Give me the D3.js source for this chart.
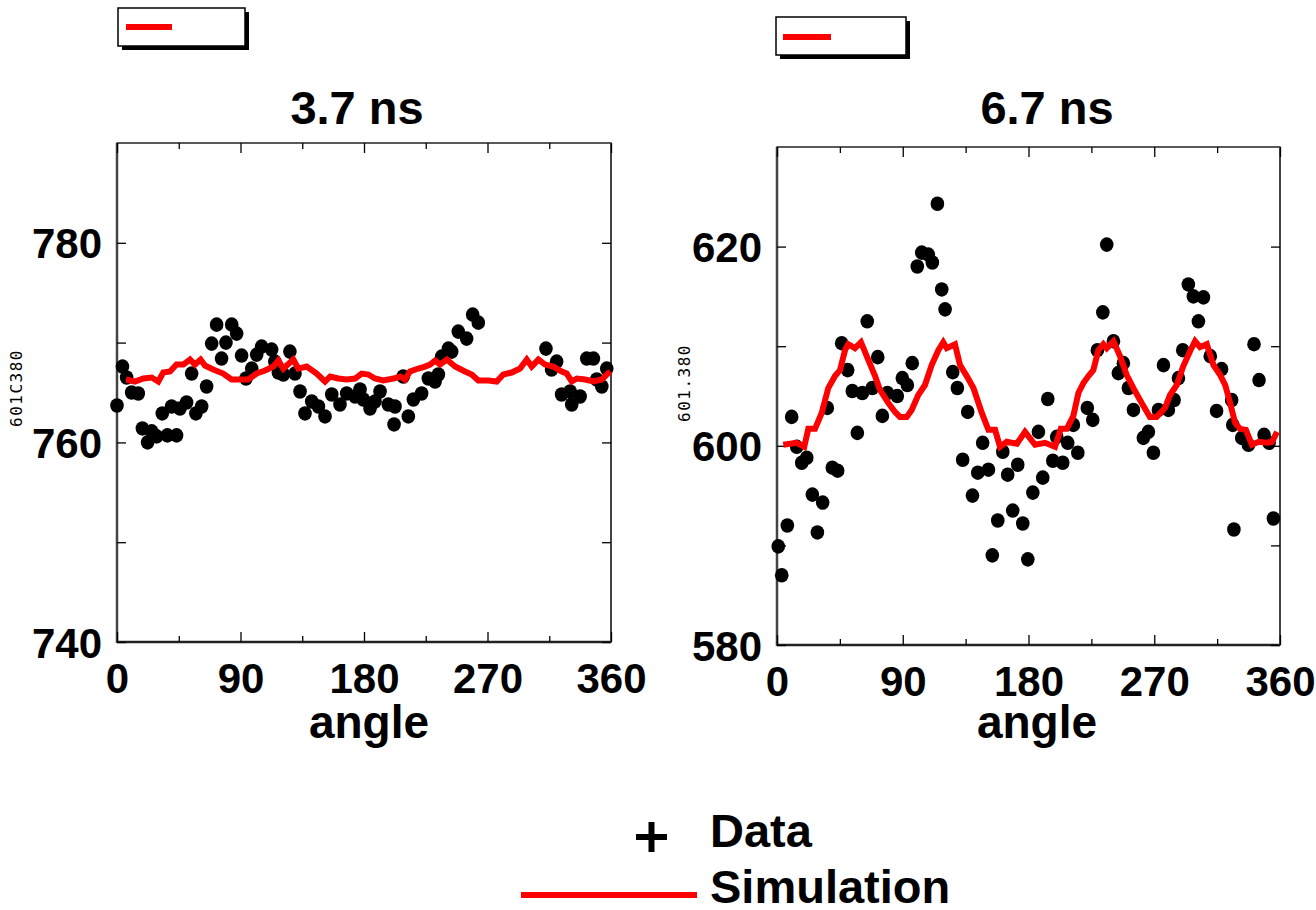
<!DOCTYPE html>
<html>
<head>
<meta charset="utf-8">
<script src="https://cdn.jsdelivr.net/npm/d3@7"></script>
<style>
  body { margin: 0; background: #fff; }
  text { font-family: "Liberation Sans", Arial, sans-serif; font-weight: bold; }
  .mono { font-family: "DejaVu Sans Mono", monospace; font-weight: normal; }
</style>
</head>
<body>
<div id="chart"></div>
<script>
// ---- data ----
var xTicks = [0, 45, 90, 135, 180, 225, 270, 315, 360];

// 3.7 ns panel
var leftAngles = [0, 4, 7, 10.7, 15.5, 18.5, 22.3, 25.3, 28.9, 33, 36.7, 39.8, 43.4, 45.9, 50.7, 54.4, 57.5, 61.7,
    65.3, 69, 72.6, 76.2, 79.4, 83.6, 87.2, 90.8, 94, 98.2, 101.8, 105.4, 112.7, 115, 117.6, 121.2, 126, 129.7,
    133.4, 137, 141.9, 146.8, 151.6, 156.5, 162.5, 167.4, 173.5, 177.1, 179.5, 184.4, 188, 191.7, 197.7, 201.9,
    202.6, 208.6, 212.3, 216, 222, 226.9, 231.8, 234.2, 236.6, 241.5, 243.9, 248.7, 254.8, 259.2, 263.3, 312.6,
    316.7, 320.4, 324, 330.2, 331.4, 337.5, 342.3, 347.2, 349.6, 353.3, 356.9];
var leftValues = [763.7, 767.6, 766.5, 765, 764.9, 761.4, 760, 761.1, 760.6, 762.9, 760.7, 763.6, 760.7, 763.4, 764,
    766.9, 762.9, 763.6, 765.6, 769.9, 771.8, 768.4, 770, 771.8, 770.9, 768.7, 766.4, 767.4, 768.8, 769.6, 769.3,
    768.1, 767, 766.8, 769.1, 766.9, 765.1, 762.9, 764.1, 763.6, 762.6, 764.8, 763.8, 764.9, 764.6, 765.3, 764.3,
    763.4, 764.1, 765.1, 763.8, 761.8, 763.6, 766.6, 762.6, 764.3, 764.9, 766.4, 766.1, 766.8, 768.6, 769.4, 769.1,
    771.1, 770.4, 772.8, 772, 769.4, 767.3, 768.1, 764.8, 765.1, 763.8, 764.6, 768.4, 768.4, 766.3, 765.6, 767.4];
var leftSimAngles = [6.6, 13.1, 19.2, 25.3, 30.1, 33.7, 38.6, 43.4, 48.3, 53.2, 56.8, 60.9, 64.1, 70.1, 77.4, 83.5,
    90.8, 95.6, 101.8, 107.9, 113.9, 117.6, 121.2, 128.5, 132.1, 138.2, 145.5, 151.6, 155.3, 161.3, 167.4, 173.5,
    178.3, 183.2, 188, 194.1, 201.4, 206.3, 209.9, 213.5, 219.6, 224.5, 228.1, 231.8, 235.4, 240.3, 246.4, 253.6,
    258.5, 263.3, 270.6, 276.7, 281.5, 287.6, 293.7, 298.6, 302.2, 307.1, 312, 318, 324.1, 327.7, 331.4, 335.1,
    341.1, 347.2, 353.3, 356.9, 359.5];
var leftSimValues = [766.3, 766.1, 766.4, 766.5, 766.1, 767, 767.1, 767.8, 767.8, 768.3, 767.8, 768.3, 767.7, 767.3,
    766.9, 766.3, 766.3, 766.3, 766.9, 767.2, 767.6, 768.2, 767.4, 768.3, 767.4, 767.6, 766.9, 766.1, 766.6, 766.4,
    766.3, 766.4, 766.9, 766.8, 766.4, 766.2, 766.4, 766.6, 766.3, 767.1, 767.4, 767.6, 767.8, 768.2, 767.8, 768.3,
    767.6, 767.1, 766.8, 766.2, 766.2, 766.1, 766.8, 767, 767.4, 768.3, 767.6, 768.3, 767.8, 767.6, 767.1, 766.9,
    766.1, 766.4, 766.3, 766.1, 766.3, 766.8, 767.1];

// 6.7 ns panel
var rightAngles = [0.9, 3.4, 7.4, 10.5, 14.1, 17.7, 21.3, 25.3, 28.9, 32.7, 36, 39.6, 43.4, 46.3, 50.6, 53.9, 57.5,
    61.1, 64.6, 68.2, 72.1, 75.4, 79, 86.1, 89.7, 93.3, 96.8, 100.4, 103.6, 108.3, 111.2, 114.8, 117.9, 120.3,
    125.8, 129.1, 132.9, 136.5, 139.9, 143.7, 147.2, 151.3, 154.1, 158, 161.6, 165.1, 168.7, 172.3, 175.9, 179.5,
    183.1, 187.1, 190.2, 193.8, 197.4, 200.2, 204.5, 208.1, 212.1, 215.3, 222.1, 226, 229.3, 233.2, 236, 240.8,
    244.3, 247.9, 251.5, 255.1, 262.2, 265.8, 269.4, 273, 276.6, 280.1, 284.2, 287.3, 290.4, 294.4, 298, 301.6,
    305.2, 310.1, 314.6, 318.2, 325.4, 326.2, 327, 332.6, 337.4, 341.4, 345, 348.6, 352.2, 355.3];
var rightValues = [589.9, 587, 592, 602.9, 599.9, 598.3, 598.8, 595.1, 591.3, 594.3, 603.8, 597.8, 597.5, 610.3,
    607.6, 605.5, 601.3, 605.3, 612.5, 605.8, 608.9, 603, 605.3, 605, 606.8, 606.1, 608.3, 618, 619.4, 619.2, 618.4,
    624.3, 615.7, 613.7, 607.4, 605.8, 598.6, 603.4, 595, 597.3, 600.3, 597.6, 589, 592.5, 599.4, 597.1, 593.5,
    598.1, 592.2, 588.6, 595.3, 601.4, 596.8, 604.7, 598.5, 600.9, 598.3, 600.3, 602.1, 599.3, 603.8, 602.6, 609.6,
    613.4, 620.2, 610.5, 607.3, 608.3, 605.8, 603.6, 600.8, 601.4, 599.3, 603.6, 608.1, 603.6, 604.6, 606.8, 609.6,
    616.2, 615, 612.5, 614.9, 609, 603.5, 607.7, 604.6, 602.1, 591.6, 600.8, 600.1, 610.2, 606.6, 601.1, 600.3, 592.7];
var rightSimAngles = [4.5, 9.3, 14.1, 19.5, 22.4, 27.2, 32, 36.7, 41.5, 45.1, 48.7, 51, 55.8, 60.1, 65.4, 70.2, 73.7,
    79.7, 84.5, 88, 92.8, 96.4, 101.1, 105.9, 110.7, 115.5, 119, 121.5, 127.4, 131, 135.8, 140.6, 146.6, 151.3,
    156.1, 159.6, 164.4, 171.6, 177.5, 184.7, 191.8, 199, 203.1, 207.4, 212.1, 215.7, 219.3, 222.9, 226.4, 230,
    233.6, 236, 240.8, 245.5, 250.3, 256.2, 261, 266.9, 271.7, 277.7, 281.3, 286.1, 290.8, 295.6, 299.2, 302.8,
    307.6, 312.4, 317.2, 320.8, 324.3, 327.9, 331.5, 335.6, 339.9, 344.7, 350.7, 354.3, 357.9];
var rightSimValues = [600.1, 600.2, 600.3, 599.9, 601.7, 601.7, 603.3, 605.8, 607, 607.6, 609.6, 610.2, 609.8, 610.4,
    608.6, 607, 605.6, 604.3, 603.4, 602.9, 602.9, 603.6, 605.1, 606.1, 608.1, 609.6, 610.4, 609.8, 610.2, 608.1,
    607, 605.8, 603.3, 601.6, 601.6, 599.9, 600.4, 600.2, 601.4, 600.1, 600.3, 599.9, 601.7, 601.7, 603, 605.3,
    606.3, 607, 607.6, 609.6, 610.2, 609.8, 610.5, 609, 607.1, 605.5, 604.3, 602.9, 602.9, 603.8, 605.1, 606.1, 608,
    609.5, 610.5, 609.9, 610.2, 608.1, 607.1, 606.1, 604.3, 602.3, 601.7, 601.6, 600.1, 600.4, 600.3, 600.4, 601.4];

var panels = [
    { title: "3.7 ns", tag: "601C380", yDomain: [740, 790], yTicks: [740, 750, 760, 770, 780],
      left: 117, right: 611, top: 143, bottom: 642, tagX: 16, tagY: 388, titleX: 357, labelX: 369,
      angles: leftAngles, values: leftValues, simAngles: leftSimAngles, simValues: leftSimValues,
      box: [118, 8, 127, 38], boxLine: [126, 172, 27] },
    { title: "6.7 ns", tag: "601.380", yDomain: [580, 630], yTicks: [580, 590, 600, 610, 620],
      left: 777, right: 1280, top: 147, bottom: 645, tagX: 684, tagY: 383, titleX: 1047, labelX: 1037,
      angles: rightAngles, values: rightValues, simAngles: rightSimAngles, simValues: rightSimValues,
      box: [776, 17, 130, 38], boxLine: [783, 831, 37] }
];

var svg = d3.select("#chart").append("svg")
    .attr("width", 1316)
    .attr("height", 910);

panels.forEach(function (p) {
    var x = d3.scaleLinear().domain([0, 360]).range([p.left, p.right]);
    var y = d3.scaleLinear().domain(p.yDomain).range([p.bottom, p.top]);
    var g = svg.append("g");

    // small legend box at the top (shadow + box + red sample)
    g.append("rect")
        .attr("x", p.box[0] + 4).attr("y", p.box[1] + 4)
        .attr("width", p.box[2]).attr("height", p.box[3])
        .attr("fill", "#000");
    g.append("rect")
        .attr("x", p.box[0]).attr("y", p.box[1])
        .attr("width", p.box[2]).attr("height", p.box[3])
        .attr("fill", "#fff").attr("stroke", "#000").attr("stroke-width", 1.5);
    g.append("line")
        .attr("x1", p.boxLine[0]).attr("x2", p.boxLine[1])
        .attr("y1", p.boxLine[2]).attr("y2", p.boxLine[2])
        .attr("stroke", "#ff0000").attr("stroke-width", 6);

    // title
    g.append("text")
        .attr("x", p.titleX).attr("y", 124)
        .attr("text-anchor", "middle")
        .style("font-size", "47px")
        .text(p.title);

    // small rotated tag
    g.append("text")
        .attr("class", "mono")
        .attr("transform", "translate(" + p.tagX + "," + p.tagY + ") rotate(-90)")
        .attr("text-anchor", "middle")
        .attr("dy", "0.35em")
        .style("font-size", "16px")
        .style("letter-spacing", "1.5px")
        .text(p.tag);

    // frame
    g.append("rect")
        .attr("x", p.left).attr("y", p.top)
        .attr("width", p.right - p.left).attr("height", p.bottom - p.top)
        .attr("fill", "none").attr("stroke", "#000").attr("stroke-width", 1.3);
    g.append("line")
        .attr("x1", p.left).attr("x2", p.left).attr("y1", p.top).attr("y2", p.bottom + 1)
        .attr("stroke", "#444").attr("stroke-width", 2.5);
    g.append("line")
        .attr("x1", p.left).attr("x2", p.right).attr("y1", p.bottom).attr("y2", p.bottom)
        .attr("stroke", "#222").attr("stroke-width", 2.5);
    g.append("line")
        .attr("x1", p.right).attr("x2", p.right).attr("y1", p.top).attr("y2", p.bottom)
        .attr("stroke", "#444").attr("stroke-width", 2);

    // axes with inward ticks
    var bottomAxis = g.append("g")
        .attr("transform", "translate(0," + p.bottom + ")")
        .call(d3.axisBottom(x).tickValues(xTicks).tickSizeInner(-10).tickSizeOuter(0).tickPadding(21)
            .tickFormat(function (d) { return d % 90 === 0 ? d : ""; }));
    var topAxis = g.append("g")
        .attr("transform", "translate(0," + p.top + ")")
        .call(d3.axisTop(x).tickValues(xTicks).tickSizeInner(-10).tickSizeOuter(0).tickFormat(""));
    var leftAxis = g.append("g")
        .attr("transform", "translate(" + p.left + ",0)")
        .call(d3.axisLeft(y).tickValues(p.yTicks).tickSizeInner(-9).tickSizeOuter(0).tickPadding(15)
            .tickFormat(function (d) { return d % 20 === 0 ? d : ""; }));
    var rightAxis = g.append("g")
        .attr("transform", "translate(" + p.right + ",0)")
        .call(d3.axisRight(y).tickValues(p.yTicks).tickSizeInner(-9).tickSizeOuter(0).tickFormat(""));

    [bottomAxis, topAxis, leftAxis, rightAxis].forEach(function (a) {
        a.select(".domain").remove();
        a.selectAll(".tick line").attr("stroke", "#000").attr("stroke-width", 1.3);
        a.selectAll(".tick text").attr("fill", "#000").attr("font-family", null)
            .style("font-size", "42px");
    });
    bottomAxis.selectAll(".tick line").filter(function (d) { return d % 90 !== 0; }).attr("y2", -6);
    topAxis.selectAll(".tick line").filter(function (d) { return d % 90 !== 0; }).attr("y2", 6);
    leftAxis.selectAll(".tick text").attr("dy", "0.36em");

    // x label
    g.append("text")
        .attr("x", p.labelX).attr("y", 738)
        .attr("text-anchor", "middle")
        .style("font-size", "46px")
        .text("angle");

    // data points
    g.append("g").selectAll("ellipse")
        .data(p.angles.map(function (a, i) { return [a, p.values[i]]; }))
        .enter().append("ellipse")
        .attr("cx", function (d) { return x(d[0]); })
        .attr("cy", function (d) { return y(d[1]); })
        .attr("rx", 6.8).attr("ry", 7.3)
        .attr("fill", "#000");

    // simulation line
    var line = d3.line()
        .x(function (d) { return x(d[0]); })
        .y(function (d) { return y(d[1]); });
    g.append("path")
        .datum(p.simAngles.map(function (a, i) { return [a, p.simValues[i]]; }))
        .attr("d", line)
        .attr("fill", "none")
        .attr("stroke", "#ff0000")
        .attr("stroke-width", 6)
        .attr("stroke-linejoin", "miter");
});

// bottom legend
var legend = svg.append("g");
legend.append("path")
    .attr("d", "M636,837H667M651.5,822V852")
    .attr("stroke", "#000").attr("stroke-width", 6);
legend.append("text")
    .attr("x", 710).attr("y", 847)
    .style("font-size", "47px")
    .text("Data");
legend.append("line")
    .attr("x1", 521).attr("x2", 697).attr("y1", 895).attr("y2", 895)
    .attr("stroke", "#ff0000").attr("stroke-width", 6);
legend.append("text")
    .attr("x", 710).attr("y", 903)
    .style("font-size", "47px")
    .text("Simulation");
</script>
</body>
</html>
